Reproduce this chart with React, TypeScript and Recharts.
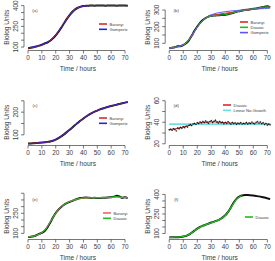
import { LineChart, Line, XAxis, YAxis, ReferenceLine, Legend, Customized } from 'recharts'

const FONT = '"Liberation Sans", Arial, Helvetica, sans-serif'
const INK = '#3c3c3c'

// sampling times, hours
const hoursBy1 = [
    0, 1, 2, 3, 4, 5, 6, 7, 8, 9, 10, 11, 12, 13, 14, 15, 16, 17, 18, 19, 20, 21, 22, 23, 24,
    25, 26, 27, 28, 29, 30, 31, 32, 33, 34, 35, 36, 37, 38, 39, 40, 41, 42, 43, 44, 45, 46, 47,
    48, 49, 50, 51, 52, 53, 54, 55, 56, 57, 58, 59, 60, 61, 62, 63, 64, 65, 66, 67, 68, 69, 70,
    71, 72,
]
const hoursBy2 = [
    0, 2, 4, 6, 8, 10, 12, 14, 16, 18, 20, 22, 24, 26, 28, 30, 32, 34, 36, 38, 40, 42, 44, 46,
    48, 50, 52, 54, 56, 58, 60, 62, 64, 66, 68, 70, 72,
]
const hoursBy4 = [0, 4, 8, 12, 16, 20, 24, 28, 32, 36, 40, 44, 48, 52, 56, 60, 64, 68, 72]
const hoursFDiauxic = [0, 4, 8, 12, 16, 20, 24, 28, 32, 36, 40, 44, 48, 52]
const hoursLinear = [0, 72]
const timeTicks = [0, 10, 20, 30, 40, 50, 60, 70]

// (a)
const aObserved = [
    92, 95, 99, 104, 110, 117, 126, 133, 146, 163, 185, 211, 241, 273, 304, 332, 356, 374, 386,
    393, 397, 399, 400, 401, 400, 401, 402, 401, 400, 401, 402, 401, 400, 401, 402, 401, 400,
]
const aBaranyi = [93, 98, 108, 124, 147, 186, 242, 304, 356, 386, 397, 400, 401, 401, 401, 401, 401, 401, 401]
const aGompertz = [96, 101, 110, 125, 150, 190, 243, 300, 348, 380, 395, 400, 401, 401, 401, 401, 401, 401, 401]

// (b)
const bObserved = [
    70, 73, 77, 82, 83, 89, 100, 118, 145, 175, 201, 223, 240, 252, 260, 265, 267, 268, 269, 270,
    272, 275, 279, 284, 289, 293, 297, 300, 302, 305, 307, 309, 312, 316, 320, 322, 316,
]
const bBaranyi = [72, 76, 84, 100, 142, 198, 238, 260, 270, 276, 281, 285, 290, 295, 300, 305, 310, 315, 319]
const bDiauxic = [71, 77, 84, 101, 145, 200, 239, 259, 267, 269, 272, 279, 289, 297, 302, 307, 312, 319, 318]
const bGompertz = [70, 75, 85, 106, 146, 196, 237, 263, 277, 285, 290, 294, 297, 300, 303, 305, 307, 309, 311]

// (c)
const cObserved = [
    62, 62, 63, 64, 65, 66, 67, 69, 71, 74, 79, 85, 93, 102, 112, 122, 132, 143, 153, 163, 172,
    181, 189, 196, 202, 207, 212, 216, 220, 224, 227, 230, 233, 236, 239, 242, 245,
]
const cBaranyi = [62, 63, 65, 67, 71, 79, 93, 112, 132, 153, 172, 189, 202, 212, 220, 227, 233, 239, 245]
const cGompertz = [61, 62, 64, 67, 72, 80, 94, 112, 132, 152, 171, 188, 201, 212, 221, 228, 234, 240, 245]

// (d)
const dObserved = [
    33.0, 33.6, 32.5, 34.1, 33.2, 32.0, 34.6, 33.9, 35.2, 34.4, 35.8, 35.0, 36.4, 35.6, 37.1, 37.9,
    37.0, 38.4, 38.9, 38.0, 39.6, 38.8, 40.3, 39.4, 40.8, 39.7, 41.2, 40.0, 39.1, 40.6, 41.5, 39.8,
    40.9, 41.8, 40.2, 39.3, 40.7, 39.5, 40.1, 38.6, 39.9, 38.9, 40.4, 39.2, 38.4, 39.7, 38.7, 39.4,
    38.2, 39.1, 38.5, 39.6, 38.3, 39.0, 38.6, 39.8, 38.4, 39.3, 38.8, 40.1, 39.0, 38.5, 39.9, 40.6,
    39.2, 40.3, 38.7, 39.5, 37.8, 38.9, 37.4, 38.2, 37.6,
]
const dDiauxic = [33.0, 33.8, 34.9, 36.2, 37.6, 38.9, 39.8, 40.3, 40.4, 40.1, 39.6, 39.2, 39.0, 38.9, 38.9, 39.0, 39.1, 38.9, 38.6]
const dLinear = [38.3, 38.3]

// (e)
const eObserved = [
    72, 74, 78, 86, 96, 104, 118, 145, 180, 218, 252, 278, 298, 314, 326, 335, 343, 352, 359,
    364, 367, 368, 366, 365, 366, 364, 365, 366, 367, 369, 370, 374, 381, 376, 366, 370, 364,
]
const eBaranyi = [74, 79, 92, 125, 185, 250, 298, 328, 346, 357, 363, 366, 367, 368, 368, 368, 369, 369, 369]
const eDiauxic = [73, 78, 95, 120, 182, 252, 298, 327, 344, 358, 366, 366, 365, 365, 367, 371, 376, 370, 366]

// (f)
const fObserved = [
    70, 71, 72, 72, 74, 77, 82, 92, 106, 122, 138, 150, 160, 168, 176, 184, 191, 199, 208, 222,
    240, 266, 300, 338, 366, 383, 392, 396, 396, 394, 391, 388, 385, 381, 376, 370, 364,
]
const fDiauxic = [70, 71.5, 74, 83, 105, 136, 158, 175, 190, 208, 238, 298, 364, 392]

const toRows = (hours: number[], values: number[]) => hours.map((t, i) => ({ t, v: values[i] }))

const RED = '#e02828'
const BLUE = '#2424d8'
const GREEN = '#1fbf1f'
const CYAN = '#6fe0e0'

// layout of the 3 x 2 grid; axes reserve AXIS px inside the margins
const AXIS = 20
const ROW_TOP = [0, 94.5, 189]
const CHART_H = 72
const COLS = [
    { left: 0, width: 137, plotLeft: 24, plotRight: 5.2 },
    { left: 140, width: 135, plotLeft: 25.2, plotRight: 0.8 },
]
const PLOT_TOP = 4
const PLOT_BOTTOM = 21.5
const X_DOMAIN: [number, number] = [-2.9, 74.9]

type Fit = { name: string; color: string; rows: { t: number; v: number }[]; width?: number }

type PanelProps = {
    col: number
    row: number
    letter: string
    observed: { t: number; v: number }[]
    pointsOnly?: boolean
    fits: Fit[]
    yDomain: [number, number]
    yTicks: number[]
    yLabelled: number[]
    legendAt: [number, number]
}

function renderKey(props: any) {
    const items = ((props.payload || []) as any[]).filter((item) => item.type !== 'none' && item.value !== 'v')
    return (
        <svg width={70} height={items.length * 5.3 + 2} style={{ display: 'block', overflow: 'visible' }}>
            {items.map((item, i) => (
                <g key={item.value}>
                    <line x1={0} x2={8} y1={2 + i * 5.3} y2={2 + i * 5.3} stroke={item.color} strokeWidth={1.6} />
                    <text
                        x={10.6}
                        y={2 + i * 5.3}
                        fontSize={4.1}
                        fontFamily={FONT}
                        fill={INK}
                        dominantBaseline="central"
                    >
                        {item.value}
                    </text>
                </g>
            ))}
        </svg>
    )
}

function Panel({ col, row, letter, observed, pointsOnly, fits, yDomain, yTicks, yLabelled, legendAt }: PanelProps) {
    const c = COLS[col]
    const margin = {
        top: PLOT_TOP,
        right: c.plotRight,
        bottom: PLOT_BOTTOM - AXIS,
        left: c.plotLeft - AXIS,
    }
    const plotW = c.width - c.plotLeft - c.plotRight
    const plotH = CHART_H - PLOT_TOP - PLOT_BOTTOM

    const timeTick = (p: any) => (
        <text
            x={p.x}
            y={p.y + 3.8}
            textAnchor="middle"
            dominantBaseline="central"
            fontSize={6.4}
            fontFamily={FONT}
            fill={INK}
        >
            {p.payload.value}
        </text>
    )

    const unitTick = (p: any) => {
        if (!yLabelled.includes(p.payload.value)) return <g />
        const x = c.plotLeft - 8.6
        return (
            <text
                x={x}
                y={p.y}
                transform={`rotate(-90 ${x} ${p.y})`}
                textAnchor="middle"
                dominantBaseline="central"
                fontSize={6.4}
                fontFamily={FONT}
                fill={INK}
            >
                {p.payload.value}
            </text>
        )
    }

    const titles = () => {
        const yMid = PLOT_TOP + plotH / 2
        const xLab = c.plotLeft - 17.8
        return (
            <g>
                <text
                    x={c.plotLeft + 11}
                    y={PLOT_TOP + 6.3}
                    fontSize={4.3}
                    fontFamily={FONT}
                    fill={INK}
                    textAnchor="middle"
                    dominantBaseline="central"
                >
                    {letter}
                </text>
                <text
                    x={xLab}
                    y={yMid}
                    transform={`rotate(-90 ${xLab} ${yMid})`}
                    fontSize={6.6}
                    fontFamily={FONT}
                    fill={INK}
                    textAnchor="middle"
                    dominantBaseline="central"
                >
                    Biolog Units
                </text>
                <text
                    x={c.plotLeft + plotW / 2}
                    y={PLOT_TOP + plotH + 17.8}
                    fontSize={6.6}
                    fontFamily={FONT}
                    fill={INK}
                    textAnchor="middle"
                    dominantBaseline="central"
                >
                    Time / hours
                </text>
            </g>
        )
    }

    return (
        <div style={{ position: 'absolute', left: c.left, top: ROW_TOP[row] }}>
            <LineChart width={c.width} height={CHART_H} margin={margin}>
                <XAxis
                    type="number"
                    dataKey="t"
                    domain={X_DOMAIN}
                    ticks={timeTicks}
                    interval={0}
                    height={AXIS}
                    axisLine={false}
                    tickSize={3}
                    tickMargin={0}
                    tickLine={{ stroke: INK, strokeWidth: 0.7 }}
                    tick={timeTick}
                    allowDataOverflow
                />
                <YAxis
                    type="number"
                    domain={yDomain}
                    ticks={yTicks}
                    interval={0}
                    width={AXIS}
                    axisLine={false}
                    tickSize={3}
                    tickMargin={0}
                    tickLine={{ stroke: INK, strokeWidth: 0.7 }}
                    tick={unitTick}
                    allowDataOverflow
                />
                <ReferenceLine
                    segment={[{ x: 0, y: yDomain[0] }, { x: 70, y: yDomain[0] }]}
                    stroke={INK}
                    strokeWidth={0.7}
                    ifOverflow="visible"
                />
                <ReferenceLine
                    segment={[
                        { x: X_DOMAIN[0], y: yTicks[0] },
                        { x: X_DOMAIN[0], y: yTicks[yTicks.length - 1] },
                    ]}
                    stroke={INK}
                    strokeWidth={0.7}
                    ifOverflow="visible"
                />
                {pointsOnly ? (
                    <Line
                        data={observed}
                        dataKey="v"
                        stroke="none"
                        dot={{ r: 0.7, fill: '#111', stroke: '#111', strokeWidth: 0.2 }}
                        legendType="none"
                        isAnimationActive={false}
                    />
                ) : (
                    <Line
                        data={observed}
                        dataKey="v"
                        type="monotone"
                        stroke="#111"
                        strokeWidth={2}
                        dot={false}
                        legendType="none"
                        isAnimationActive={false}
                    />
                )}
                {fits.map((f) => (
                    <Line
                        key={f.name}
                        name={f.name}
                        data={f.rows}
                        dataKey="v"
                        type="monotone"
                        stroke={f.color}
                        strokeWidth={f.width ?? 1}
                        dot={false}
                        isAnimationActive={false}
                    />
                ))}
                <Legend
                    layout="vertical"
                    align="center"
                    verticalAlign="middle"
                    content={renderKey}
                    wrapperStyle={{ left: legendAt[0], top: legendAt[1], width: 70, height: 18 }}
                />
                <Customized component={titles} />
            </LineChart>
        </div>
    )
}

export default function App() {
    return (
        <div
            style={{
                position: 'absolute',
                left: 0,
                top: 0,
                width: 275,
                height: 261,
                background: '#fff',
                overflow: 'hidden',
            }}
        >
            <Panel
                col={0}
                row={0}
                letter="(a)"
                observed={toRows(hoursBy2, aObserved)}
                fits={[
                    { name: 'Baranyi', color: RED, rows: toRows(hoursBy4, aBaranyi) },
                    { name: 'Gompertz', color: BLUE, rows: toRows(hoursBy4, aGompertz) },
                ]}
                yDomain={[75, 412]}
                yTicks={[100, 150, 200, 250, 300, 350, 400]}
                yLabelled={[100, 250, 400]}
                legendAt={[98.7, 22]}
            />
            <Panel
                col={1}
                row={0}
                letter="(b)"
                observed={toRows(hoursBy2, bObserved)}
                fits={[
                    { name: 'Baranyi', color: RED, rows: toRows(hoursBy4, bBaranyi) },
                    { name: 'Diauxic', color: GREEN, rows: toRows(hoursBy4, bDiauxic) },
                    { name: 'Gompertz', color: '#5a5af0', rows: toRows(hoursBy4, bGompertz) },
                ]}
                yDomain={[57, 336]}
                yTicks={[100, 150, 200, 250, 300]}
                yLabelled={[100, 200, 300]}
                legendAt={[100, 19.7]}
            />
            <Panel
                col={0}
                row={1}
                letter="(c)"
                observed={toRows(hoursBy2, cObserved)}
                fits={[
                    { name: 'Baranyi', color: RED, rows: toRows(hoursBy4, cBaranyi) },
                    { name: 'Gompertz', color: BLUE, rows: toRows(hoursBy4, cGompertz) },
                ]}
                yDomain={[53, 258]}
                yTicks={[100, 150, 200, 250]}
                yLabelled={[100, 200]}
                legendAt={[98.7, 21.8]}
            />
            <Panel
                col={1}
                row={1}
                letter="(d)"
                observed={toRows(hoursBy1, dObserved)}
                pointsOnly
                fits={[
                    { name: 'Diauxic', color: RED, rows: toRows(hoursBy4, dDiauxic) },
                    { name: 'Linear No-Growth', color: CYAN, rows: toRows(hoursLinear, dLinear), width: 1.8 },
                ]}
                yDomain={[18.4, 61.6]}
                yTicks={[20, 30, 40, 50, 60]}
                yLabelled={[20, 40, 60]}
                legendAt={[83.3, 8.2]}
            />
            <Panel
                col={0}
                row={2}
                letter="(e)"
                observed={toRows(hoursBy2, eObserved)}
                fits={[
                    { name: 'Baranyi', color: '#e86a6a', rows: toRows(hoursBy4, eBaranyi) },
                    { name: 'Diauxic', color: GREEN, rows: toRows(hoursBy4, eDiauxic) },
                ]}
                yDomain={[54, 402]}
                yTicks={[100, 150, 200, 250, 300, 350, 400]}
                yLabelled={[100, 250]}
                legendAt={[103.3, 22.3]}
            />
            <Panel
                col={1}
                row={2}
                letter="(f)"
                observed={toRows(hoursBy2, fObserved)}
                fits={[{ name: 'Diauxic', color: GREEN, rows: toRows(hoursFDiauxic, fDiauxic), width: 1.3 }]}
                yDomain={[54, 411]}
                yTicks={[100, 150, 200, 250, 300, 350, 400]}
                yLabelled={[100, 250, 400]}
                legendAt={[105, 25.7]}
            />
        </div>
    )
}
